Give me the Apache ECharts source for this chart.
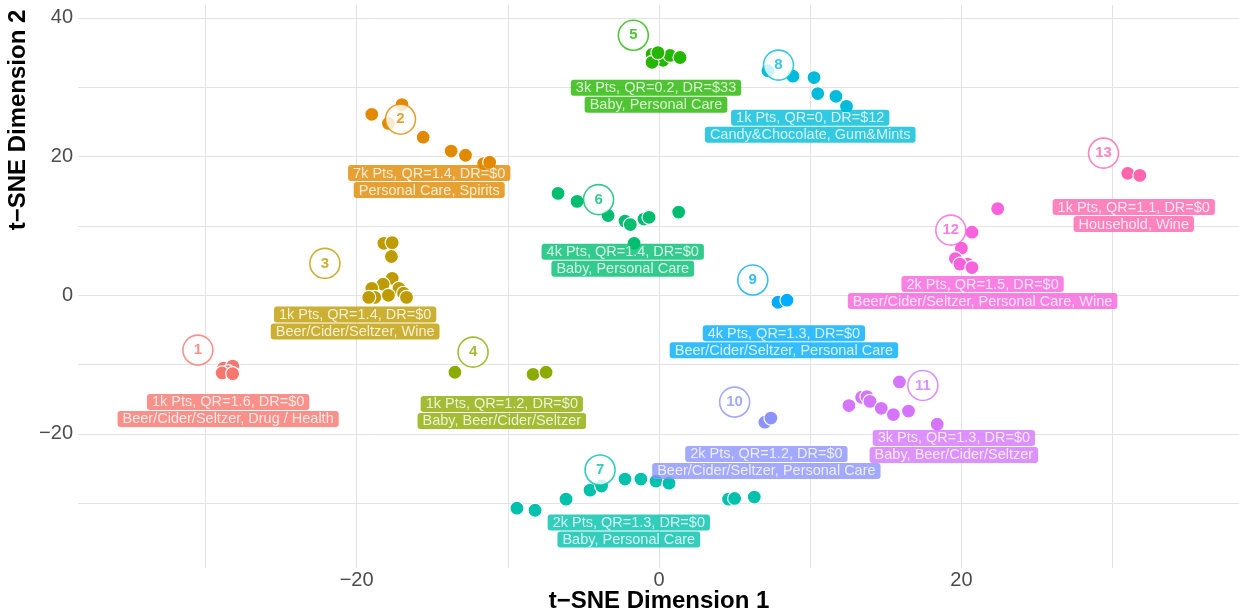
<!DOCTYPE html>
<html>
<head>
<meta charset="utf-8">
<script src="https://cdn.jsdelivr.net/npm/echarts@6/dist/echarts.min.js"></script>
<style>
html,body{margin:0;padding:0;background:#fff;}
#chart{width:1239px;height:613px;}
</style>
</head>
<body>
<div id="chart"></div>
<script>
// ---- data ----
const clusterIds = ['1','2','3','4','5','6','7','8','9','10','11','12','13'];
const clusterPoints = [
  [[-28.8,-10.5],[-28.2,-10.2],[-28.5,-11.0],[-28.9,-11.2],[-28.2,-11.3]],
  [[-19.0,26.1],[-17.0,27.5],[-17.9,24.8],[-15.6,22.8],[-13.75,20.8],[-12.8,20.2],[-11.6,19.0],[-11.2,19.2]],
  [[-18.2,7.5],[-17.65,7.6],[-17.7,5.6],[-17.65,2.45],[-18.25,1.6],[-19.0,1.0],[-18.8,-0.3],[-17.2,1.0],[-16.9,0.3],[-16.7,-0.3],[-17.9,0.0],[-19.2,-0.3]],
  [[-13.5,-11.1],[-8.33,-11.4],[-7.47,-11.1]],
  [[-0.46,34.75],[0.26,33.9],[0.73,34.6],[1.39,34.3],[-0.46,33.6],[-0.07,35.0]],
  [[-6.68,14.7],[-5.42,13.55],[-3.37,11.5],[-2.25,10.7],[-1.9,10.2],[-1.0,11.0],[-0.66,11.25],[1.3,12.0],[-1.65,7.5]],
  [[-9.4,-30.7],[-8.2,-31.0],[-6.15,-29.4],[-4.56,-28.1],[-3.8,-27.5],[-2.25,-26.5],[-1.2,-26.5],[-0.2,-26.8],[0.66,-27.1],[4.6,-29.4],[5.0,-29.3],[6.3,-29.1]],
  [[7.2,32.4],[8.86,31.6],[10.25,31.4],[10.5,29.1],[11.7,28.7],[12.4,27.25]],
  [[7.87,-1.0],[8.46,-0.7]],
  [[7.0,-18.3],[7.4,-17.7]],
  [[12.56,-15.9],[13.4,-14.7],[13.75,-14.6],[13.95,-15.3],[14.7,-16.3],[15.5,-17.2],[15.9,-12.5],[16.5,-16.7],[18.4,-18.6]],
  [[22.4,12.5],[20.7,9.1],[20.0,6.8],[19.6,5.3],[20.4,4.5],[19.9,4.5],[20.7,4.0]],
  [[31.0,17.6],[31.8,17.3]]
];
const badgeX = [-30.5,-17.1,-22.1,-12.3,-1.7,-4.0,-3.9,7.9,6.2,5.0,17.45,19.3,29.4];
const badgeY = [-7.9,25.4,4.6,-8.2,37.5,13.8,-25.2,33.2,2.2,-15.4,-13.0,9.4,20.5];
const labelX = [-28.5,-15.2,-20.1,-10.4,-0.2,-2.4,-2.0,10.0,8.26,7.1,19.5,21.4,31.4];
const labelY = [-16.6,16.4,-4.0,-16.9,28.7,5.05,-34.0,24.4,-6.7,-24.1,-21.8,0.4,11.5];
const labelLine1 = [
  '1k Pts, QR=1.6, DR=$0','7k Pts, QR=1.4, DR=$0','1k Pts, QR=1.4, DR=$0','1k Pts, QR=1.2, DR=$0',
  '3k Pts, QR=0.2, DR=$33','4k Pts, QR=1.4, DR=$0','2k Pts, QR=1.3, DR=$0','1k Pts, QR=0, DR=$12',
  '4k Pts, QR=1.3, DR=$0','2k Pts, QR=1.2, DR=$0','3k Pts, QR=1.3, DR=$0','2k Pts, QR=1.5, DR=$0',
  '1k Pts, QR=1.1, DR=$0'
];
const labelLine2 = [
  'Beer/Cider/Seltzer, Drug / Health','Personal Care, Spirits','Beer/Cider/Seltzer, Wine',
  'Baby, Beer/Cider/Seltzer','Baby, Personal Care','Baby, Personal Care','Baby, Personal Care',
  'Candy&Chocolate, Gum&Mints','Beer/Cider/Seltzer, Personal Care','Beer/Cider/Seltzer, Personal Care',
  'Baby, Beer/Cider/Seltzer','Beer/Cider/Seltzer, Personal Care, Wine','Household, Wine'
];
const xTitle = 't\u2212SNE Dimension 1';
const yTitle = 't\u2212SNE Dimension 2';

// ---- styles ----
const palette = ['#F8766D','#E18A00','#BE9C00','#8CAB00','#24B700','#00BE70','#00C1AB','#00BBDA','#00ACFC','#8B93FF','#D575FE','#F962DD','#FF65AC'];
const FONT = '"Liberation Sans", Arial, sans-serif';

function fmtTick(v){
  if (Math.abs(v % 20) > 1e-9) return '';
  return v < 0 ? '\u2212' + Math.abs(v) : String(v);
}

const series = [];
clusterPoints.forEach((pts, i) => {
  series.push({
    type: 'scatter', silent: true, z: 2,
    data: pts,
    symbolSize: 14,
    itemStyle: { color: palette[i], borderColor: '#fff', borderWidth: 1.2, opacity: 1 }
  });
});
series.push({
  type: 'scatter', silent: true, z: 3,
  symbolSize: 30,
  data: clusterIds.map((id, i) => ({
    value: [badgeX[i], badgeY[i]],
    itemStyle: { color: '#fff', borderColor: palette[i], borderWidth: 1.6 },
    label: { show: true, position: 'inside', formatter: id, color: palette[i], fontWeight: 'bold', fontSize: 15, fontFamily: FONT }
  }))
});
series.push({
  type: 'scatter', silent: true, z: 5,
  symbolSize: 1,
  itemStyle: { color: 'rgba(0,0,0,0)', borderWidth: 0 },
  data: clusterIds.map((id, i) => ({
    value: [labelX[i], labelY[i]],
    label: {
      show: true, position: 'inside', align: 'center', verticalAlign: 'middle',
      formatter: '{b|' + labelLine1[i] + '}\n{b|' + labelLine2[i] + '}',
      rich: {
        b: { backgroundColor: palette[i], color: '#fff', fontSize: 14.5, fontFamily: FONT,
             lineHeight: 17, padding: [1, 5, 0, 5], borderRadius: 3, align: 'center' }
      }
    }
  }))
});

const chart = echarts.init(document.getElementById('chart'), null, { renderer: 'canvas' });
chart.setOption({
  animation: false,
  backgroundColor: '#fff',
  grid: { left: 78, right: 0, top: 5, bottom: 45, containLabel: false, outerBoundsMode: 'none' },
  xAxis: {
    type: 'value', min: -38.43, max: 38.36, minInterval: 10, maxInterval: 10,
    axisLine: { show: false }, axisTick: { show: false },
    axisLabel: { formatter: fmtTick, fontSize: 20, color: '#4D4D4D', fontFamily: FONT, margin: 2,
                 showMinLabel: false, showMaxLabel: false },
    splitLine: { show: true, showMinLine: false, showMaxLine: false, lineStyle: { color: '#E3E3E3', width: 1 } }
  },
  yAxis: {
    type: 'value', min: -39.33, max: 41.87, minInterval: 10, maxInterval: 10,
    axisLine: { show: false }, axisTick: { show: false },
    axisLabel: { formatter: fmtTick, fontSize: 20, color: '#4D4D4D', fontFamily: FONT, margin: 5,
                 showMinLabel: false, showMaxLabel: false },
    splitLine: { show: true, showMinLine: false, showMaxLine: false, lineStyle: { color: '#E3E3E3', width: 1 } }
  },
  graphic: [{
    type: 'text', silent: true,
    x: 18, y: 120, rotation: Math.PI / 2,
    style: { text: yTitle, font: 'bold 24px ' + FONT, fill: '#000',
             align: 'center', verticalAlign: 'middle' }
  }, {
    type: 'text', silent: true,
    x: 659, y: 601,
    style: { text: xTitle, font: 'bold 24px ' + FONT, fill: '#000',
             align: 'center', verticalAlign: 'middle' }
  }],
  series: series
});
</script>
</body>
</html>
